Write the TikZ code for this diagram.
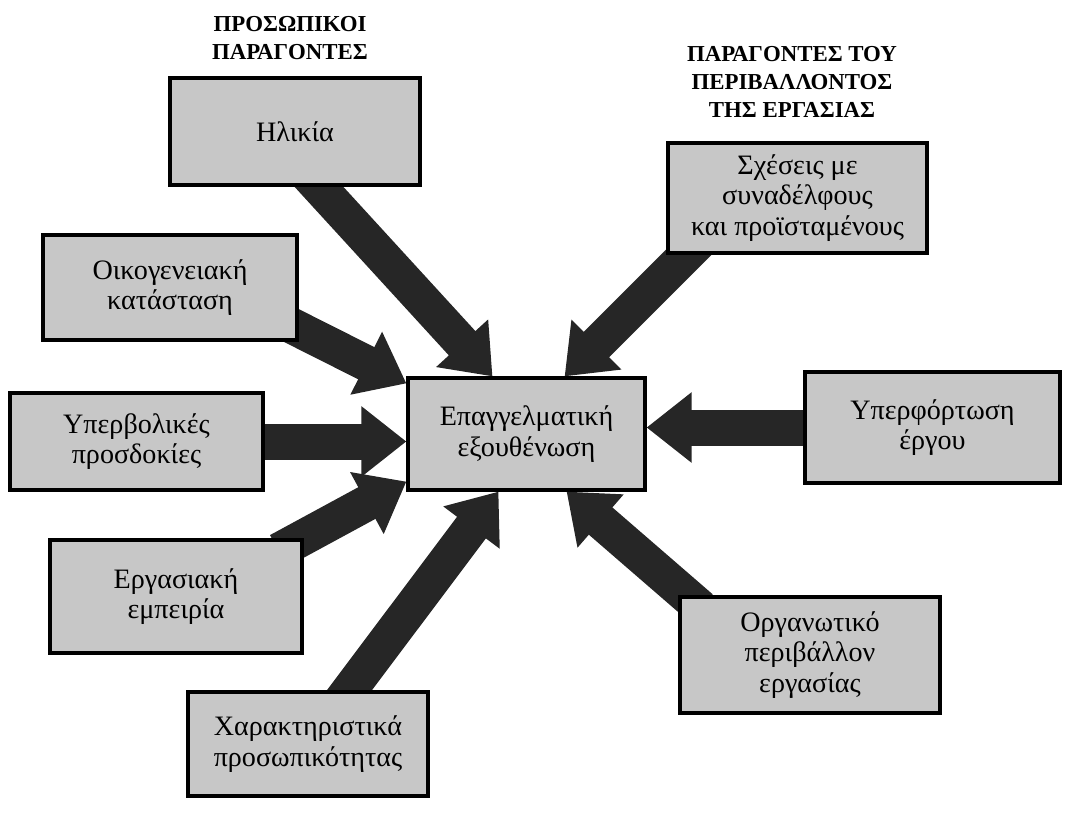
\documentclass[tikz,border=0pt]{standalone}
\usepackage{fontspec}
\setmainfont{Liberation Serif}
\usepackage{tikz}
\usetikzlibrary{arrows.meta,positioning,calc,backgrounds}

\begin{document}
\begin{tikzpicture}[
    factor/.style={rectangle, draw, line width=1.8pt, fill=black!22, align=center,
        font=\fontsize{16}{17.5}\selectfont},
    heading/.style={align=center, font=\bfseries\fontsize{13}{16}\selectfont},
    bigarrow/.style={draw=black!85, line width=0.72cm,
        -{Triangle[length=0.9cm, width=1.35cm]}, black!85}
]
    \useasboundingbox (0,0) rectangle (21.3,-16.28);

    % Headings
    \node[heading] (hleft) at (5.8,-0.76) {ΠΡΟΣΩΠΙΚΟΙ\\ΠΑΡΑΓΟΝΤΕΣ};
    \node[heading] (hright) at (15.84,-1.64) {ΠΑΡΑΓΟΝΤΕΣ ΤΟΥ\\ΠΕΡΙΒΑΛΛΟΝΤΟΣ\\ΤΗΣ ΕΡΓΑΣΙΑΣ};

    % Centre
    \node[factor, minimum width=4.74cm, minimum height=2.24cm] (core) at (10.53,-8.68) {Επαγγελματική\\εξουθένωση};

    % Personal factors
    \node[factor, minimum width=5cm, minimum height=2.14cm] (age) at (5.9,-2.63) {Ηλικία};
    \node[factor, minimum width=5.08cm, minimum height=2.1cm] (family) at (3.4,-5.75) {Οικογενειακή\\κατάσταση};
    \node[factor, minimum width=5.06cm, minimum height=1.94cm] (expect) at (2.73,-8.83) {Υπερβολικές\\προσδοκίες};
    \node[factor, minimum width=5.04cm, minimum height=2.26cm] (edu) at (3.52,-11.93) {Εργασιακή\\εμπειρία};
    \node[factor, minimum width=4.8cm, minimum height=2.08cm] (pers) at (6.16,-14.88) {Χαρακτηριστικά\\προσωπικότητας};

    % Work environment factors
    \node[factor, minimum width=5.18cm, minimum height=2.2cm] (rel) at (15.95,-3.96) {Σχέσεις με\\συναδέλφους\\και προϊσταμένους};
    \node[factor, minimum width=5.1cm, minimum height=2.22cm] (load) at (18.65,-8.55) {Υπερφόρτωση\\έργου};
    \node[factor, minimum width=5.2cm, minimum height=2.32cm] (org) at (16.2,-13.1) {Οργανωτικό\\περιβάλλον\\εργασίας};

    % Arrows (tails hidden behind the boxes)
    \begin{scope}[on background layer]
    \draw[bigarrow] ([shift={(0.2,0.3)}]age.south) -- ([xshift=-0.68cm]core.north);
    \draw[bigarrow] ([shift={(-0.4,0.45)}]family.south east) -- ([yshift=-0.14cm]core.north west);
    \draw[bigarrow] ([xshift=-0.3cm]expect.east) -- (expect.east -| core.west);
    \draw[bigarrow] ([shift={(-0.5,-0.25)}]edu.north east) -- ([yshift=0.2cm]core.south west);
    \draw[bigarrow] ([shift={(0.6,-0.3)}]pers.north) -- ([xshift=-0.56cm]core.south);
    \draw[bigarrow] ([shift={(0.7,0.3)}]rel.south west) -- ([xshift=-1.64cm]core.north east);
    \draw[bigarrow] ([xshift=0.3cm]load.west) -- (load.west -| core.east);
    \draw[bigarrow] ([shift={(0.45,-0.25)}]org.north west) -- ([xshift=-1.6cm]core.south east);
    \end{scope}
\end{tikzpicture}
\end{document}
